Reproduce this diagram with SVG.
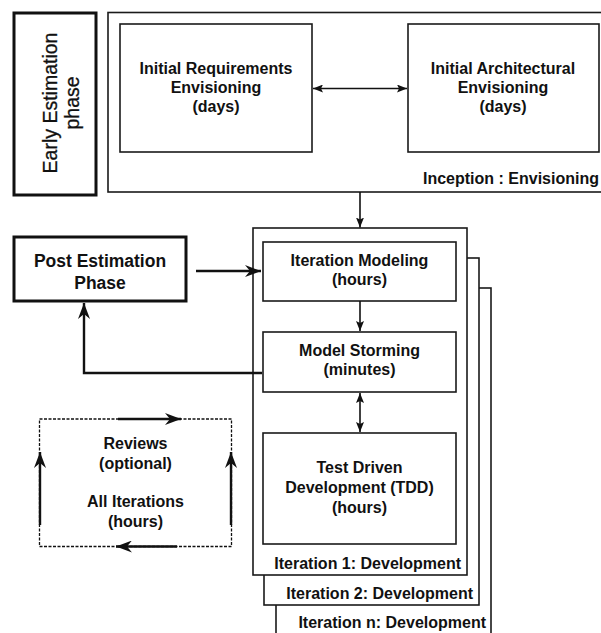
<svg xmlns="http://www.w3.org/2000/svg" width="601" height="633" viewBox="0 0 601 633">
<style>
.box{fill:#fff;stroke:#1a1a1a;stroke-width:1.6}
.thick{fill:#fff;stroke:#111;stroke-width:3}
.t{font-family:"Liberation Sans",Arial,sans-serif;font-weight:bold;font-size:16px;fill:#111;text-anchor:middle}
.big{font-size:17.5px}
.reg{font-family:"Liberation Sans",Arial,sans-serif;font-size:19.5px;fill:#111;stroke:#111;stroke-width:0.3;text-anchor:middle}
.end{text-anchor:end}
.c{fill:none;stroke:#111;stroke-width:1.6}
.ct{fill:none;stroke:#111;stroke-width:2.4}
</style>
<defs>
<marker id="a" viewBox="0 0 10 8" refX="10" refY="4" markerWidth="10" markerHeight="8" markerUnits="userSpaceOnUse" orient="auto-start-reverse">
<path d="M0,0 L10,4 L0,8 L2,4 z" fill="#111"/>
</marker>
<marker id="b" viewBox="0 0 16 12" refX="16" refY="6" markerWidth="16" markerHeight="12" markerUnits="userSpaceOnUse" orient="auto-start-reverse">
<path d="M0,0 L16,6 L0,12 L5,6 z" fill="#111"/>
</marker>
</defs>

<g id="early-estimation">
<rect class="thick" x="14" y="13" width="82" height="182"/>
<text class="reg" transform="translate(57,103) rotate(-90)">Early Estimation</text>
<text class="reg" transform="translate(78.5,103) rotate(-90)">phase</text>
</g>

<g id="inception">
<rect class="box" x="108" y="12.5" width="500" height="179.5"/>
<text class="t end" x="599" y="184">Inception : Envisioning</text>
</g>

<g id="initial-requirements">
<rect class="box" x="120" y="24" width="192" height="128"/>
<text class="t" x="216" y="74">Initial Requirements</text>
<text class="t" x="216" y="93">Envisioning</text>
<text class="t" x="216" y="112">(days)</text>
</g>

<g id="initial-architectural">
<rect class="box" x="408" y="24" width="191" height="128"/>
<text class="t" x="503" y="74">Initial Architectural</text>
<text class="t" x="503" y="93">Envisioning</text>
<text class="t" x="503" y="112">(days)</text>
</g>

<g id="iteration-n">
<rect class="box" x="276" y="288" width="215" height="360"/>
<text class="t end" x="486" y="628">Iteration n: Development</text>
</g>

<g id="iteration-2">
<rect class="box" x="264" y="258" width="215" height="347"/>
<text class="t end" x="473" y="599">Iteration 2: Development</text>
</g>

<g id="iteration-1">
<rect class="box" x="253" y="228" width="214" height="347"/>
<text class="t end" x="461" y="569">Iteration 1: Development</text>
</g>

<g id="iteration-modeling">
<rect class="box" x="263" y="242" width="193" height="59"/>
<text class="t" x="359.5" y="266">Iteration Modeling</text>
<text class="t" x="359.5" y="285">(hours)</text>
</g>

<g id="model-storming">
<rect class="box" x="263" y="332" width="193" height="60"/>
<text class="t" x="359.5" y="356">Model Storming</text>
<text class="t" x="359.5" y="375">(minutes)</text>
</g>

<g id="tdd">
<rect class="box" x="263" y="433" width="193" height="111"/>
<text class="t" x="359.5" y="473">Test Driven</text>
<text class="t" x="359.5" y="493">Development (TDD)</text>
<text class="t" x="359.5" y="513">(hours)</text>
</g>

<g id="post-estimation">
<rect class="thick" x="14" y="237" width="172" height="64"/>
<text class="t big" x="100" y="267">Post Estimation</text>
<text class="t big" x="100" y="289">Phase</text>
</g>

<g id="reviews">
<rect x="39.5" y="419" width="192" height="127.5" fill="none" stroke="#111" stroke-width="1.3" stroke-dasharray="3,1.5"/>
<text class="t" x="135.5" y="449">Reviews</text>
<text class="t" x="135.5" y="469">(optional)</text>
<text class="t" x="135.5" y="507">All Iterations</text>
<text class="t" x="135.5" y="527">(hours)</text>
</g>

<g id="connectors">
<line class="c" x1="313" y1="88.5" x2="407" y2="88.5" marker-start="url(#a)" marker-end="url(#a)"/>
<line class="c" x1="360" y1="192" x2="360" y2="227.5" marker-end="url(#a)"/>
<line class="c" x1="360" y1="301" x2="360" y2="331" marker-end="url(#a)"/>
<line class="c" x1="360" y1="393" x2="360" y2="432" marker-start="url(#a)" marker-end="url(#a)"/>
<line class="ct" x1="196" y1="271" x2="261" y2="271" marker-end="url(#b)"/>
<polyline class="ct" points="262,373 84,373 84,303" marker-end="url(#b)"/>
<line class="ct" x1="118" y1="419" x2="181" y2="419" marker-end="url(#b)"/>
<line class="ct" x1="177" y1="546.5" x2="116" y2="546.5" marker-end="url(#b)"/>
<line class="ct" x1="40" y1="525" x2="40" y2="452" marker-end="url(#b)"/>
<line class="ct" x1="231" y1="525" x2="231" y2="452" marker-end="url(#b)"/>
</g>
</svg>
